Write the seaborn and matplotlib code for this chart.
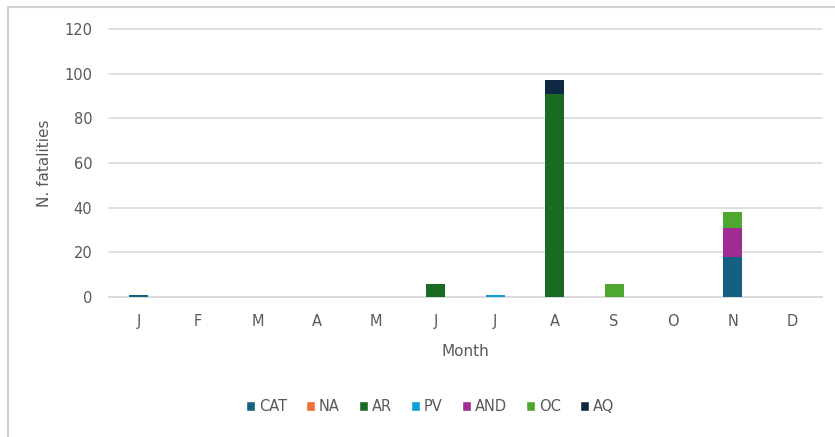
import numpy as np
import pandas as pd
import matplotlib
matplotlib.use("Agg")
import matplotlib.pyplot as plt
from matplotlib.patches import Patch, Rectangle
import seaborn as sns

# ------------------------------------------------------------------------
# data
# ------------------------------------------------------------------------
MONTHS = ["Jan", "Feb", "Mar", "Apr", "May", "Jun",
          "Jul", "Aug", "Sep", "Oct", "Nov", "Dec"]
MONTH_LABELS = ["J", "F", "M", "A", "M", "J", "J", "A", "S", "O", "N", "D"]

CAT = [1, 0, 0, 0, 0, 0, 0, 0, 0, 0, 18, 0]
NA  = [0, 0, 0, 0, 0, 0, 0, 0, 0, 0, 0, 0]
AR  = [0, 0, 0, 0, 0, 6, 0, 91, 0, 0, 0, 0]
PV  = [0, 0, 0, 0, 0, 0, 1, 0, 0, 0, 0, 0]
AND = [0, 0, 0, 0, 0, 0, 0, 0, 0, 0, 13, 0]
OC  = [0, 0, 0, 0, 0, 0, 0, 0, 6, 0, 7, 0]
AQ  = [0, 0, 0, 0, 0, 0, 0, 6, 0, 0, 0, 0]

SERIES = {"CAT": CAT, "NA": NA, "AR": AR, "PV": PV,
          "AND": AND, "OC": OC, "AQ": AQ}
COLORS = {"CAT": "#156082", "NA": "#E97132", "AR": "#196B24",
          "PV": "#0F9ED5", "AND": "#A02B93", "OC": "#4EA72E",
          "AQ": "#0E2841"}

TEXT = "#595959"
GRID = "#d9d9d9"

sns.set_style("white")
plt.rcParams["font.family"] = ["DejaVu Sans"]

fig = plt.figure(figsize=(8.35, 4.37), dpi=100)
ax = fig.add_axes([0.1305, 0.3204, 0.8539, 0.6132])

# stacked bars, one seaborn call per series
bottom = np.zeros(len(MONTHS))
for name, vals in SERIES.items():
    df = pd.DataFrame({"Month": MONTHS, "value": vals})
    sns.barplot(data=df, x="Month", y="value", order=MONTHS,
                color=COLORS[name], bottom=bottom, width=0.32,
                ax=ax, saturation=1, linewidth=0, zorder=3)
    bottom = bottom + np.array(vals)

ax.set_ylim(0, 120)
ax.set_yticks(range(0, 121, 20))
ax.set_xticks(range(len(MONTHS)))
ax.set_xticklabels(MONTH_LABELS)
ax.yaxis.grid(True, color=GRID, linewidth=1.2, zorder=0)
for gl in ax.yaxis.get_gridlines():
    gl.set_clip_on(False)
ax.set_axisbelow(True)
for side in ["top", "right", "left"]:
    ax.spines[side].set_visible(False)
ax.spines["bottom"].set_color(GRID)
ax.spines["bottom"].set_linewidth(1.2)

ax.tick_params(axis="y", length=0, pad=12, labelsize=10.5, labelcolor=TEXT)
ax.tick_params(axis="x", length=0, pad=12, labelsize=10.5, labelcolor=TEXT)
ax.set_xlabel("Month", fontsize=11, color=TEXT, labelpad=11)
ax.set_ylabel("N. fatalities", fontsize=11, color=TEXT, labelpad=9)

handles = [Patch(facecolor=COLORS[n], label=n) for n in SERIES]
fig.legend(handles=handles, loc="center", bbox_to_anchor=(0.515, 0.069),
           ncol=7, frameon=False, fontsize=10.5, labelcolor=TEXT,
           handlelength=0.65, handleheight=0.65, handletextpad=0.25,
           columnspacing=1.3)

# light chart frame (cut at right / bottom edges)
fig.patches.append(Rectangle((8 / 835, -0.05), 1.2, 1 - 7 / 437 + 0.05,
                             transform=fig.transFigure, fill=False,
                             edgecolor="#d0d0d0", linewidth=1.5))

fig.savefig("out.png", dpi=100)
